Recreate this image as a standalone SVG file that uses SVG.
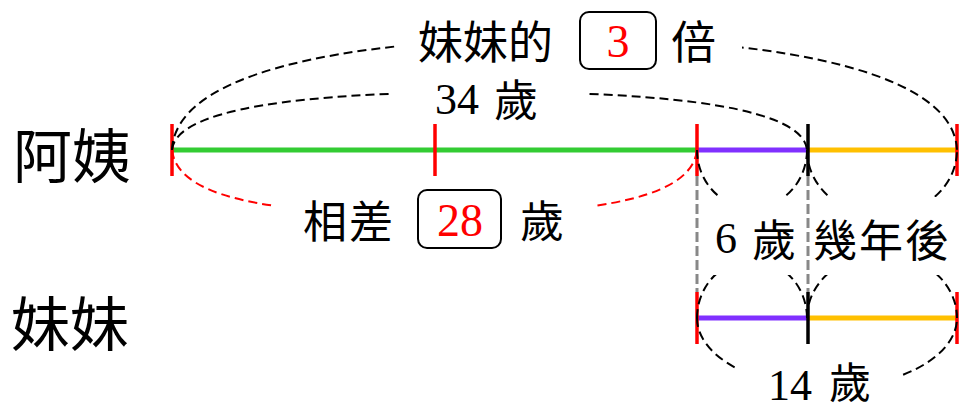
<svg xmlns="http://www.w3.org/2000/svg" width="959" height="411" viewBox="0 0 959 411">
<style>
.t{font-family:"Liberation Serif","Noto Sans CJK TC",serif;fill:#000}
.big{font-size:59px}
.m{font-size:44px}
.red{fill:#ff0000}
.bar{stroke-width:5;fill:none}
.tick{stroke-width:3.5;fill:none}
.arc{stroke:#000;stroke-width:2;fill:none;stroke-dasharray:9 5}
.arcr{stroke:#ff0000;stroke-width:2;fill:none;stroke-dasharray:9 5}
.guide{stroke:#888;stroke-width:3;stroke-dasharray:10 4;fill:none}
.box{fill:none;stroke:#000;stroke-width:2}
</style>
<defs>
<mask id="gaps" maskUnits="userSpaceOnUse" x="0" y="0" width="959" height="411">
<rect x="0" y="0" width="959" height="411" fill="#fff"/>
<rect x="396" y="0" width="346" height="78" fill="#000"/>
<rect x="392" y="80" width="195" height="30" fill="#000"/>
<rect x="272" y="180" width="325" height="60" fill="#000"/>
<rect x="700" y="197" width="259" height="78" fill="#000"/>
<rect x="737" y="340" width="165" height="71" fill="#000"/>
</mask>
</defs>
<rect width="959" height="411" fill="#fff"/>

<g id="aunt-bar">
<line class="bar" x1="172" y1="150" x2="697" y2="150" stroke="#33cc33"/>
<line class="bar" x1="697" y1="150" x2="807" y2="150" stroke="#8030ff"/>
<line class="bar" x1="807" y1="150" x2="957" y2="150" stroke="#ffc000"/>
<line class="tick" x1="172" y1="124" x2="172" y2="176" stroke="#ff0000"/>
<line class="tick" x1="435" y1="124" x2="435" y2="176" stroke="#ff0000"/>
<line class="tick" x1="697" y1="124" x2="697" y2="176" stroke="#ff0000"/>
<line class="tick" x1="808" y1="124" x2="808" y2="176" stroke="#000"/>
<line class="tick" x1="957" y1="124" x2="957" y2="176" stroke="#ff0000"/>
</g>

<g id="sister-bar">
<line class="bar" x1="697" y1="318" x2="807" y2="318" stroke="#8030ff"/>
<line class="bar" x1="807" y1="318" x2="957" y2="318" stroke="#ffc000"/>
<line class="tick" x1="697" y1="292" x2="697" y2="344" stroke="#ff0000"/>
<line class="tick" x1="808" y1="292" x2="808" y2="344" stroke="#000"/>
<line class="tick" x1="957" y1="292" x2="957" y2="344" stroke="#ff0000"/>
</g>

<g id="connectors">
<line class="guide" x1="697" y1="176" x2="697" y2="292"/>
<line class="guide" x1="808" y1="176" x2="808" y2="292"/>
<g mask="url(#gaps)">
<path class="arc" d="M172,150 C176,60 400,38 564.5,38 C729,38 953,60 957,150"/>
<path class="arc" d="M172,150 C176,100 360,92 489.5,92 C619,92 803,100 807,150"/>
<path class="arcr" d="M172,150 C178,205 300,214 434.5,214 C569,214 691,205 697,150"/>
<path class="arc" d="M697,150 A55,58 0 0 0 807,150"/>
<path class="arc" d="M697,318 A55,58 0 0 1 807,318"/>
<path class="arc" d="M807,150 A75,66 0 0 0 957,150"/>
<path class="arc" d="M807,318 A75,64 0 0 1 957,318"/>
<path class="arc" d="M697,318 A130,70 0 0 0 957,318"/>
</g>
</g>

<g id="label-aunt"><text class="t big" x="13" y="178">阿姨</text></g>
<g id="label-sister"><text class="t big" x="11" y="346">妹妹</text></g>

<g id="label-times">
<text class="t m" x="418" y="59" style="font-size:45px">妹妹的</text>
<rect class="box" x="580" y="12" width="76" height="57" rx="9"/>
<text class="t m red" x="618" y="57" text-anchor="middle" style="font-size:46px">3</text>
<text class="t m" x="671" y="59" style="font-size:45px">倍</text>
</g>

<g id="label-34">
<text class="t m" x="435" y="114">34</text>
<text class="t m" x="494" y="117">歲</text>
</g>

<g id="label-diff">
<text class="t m" x="303" y="238" letter-spacing="2">相差</text>
<rect class="box" x="418" y="190" width="83" height="58" rx="9"/>
<text class="t m red" x="460" y="236" text-anchor="middle" style="font-size:46px">28</text>
<text class="t m" x="520" y="238">歲</text>
</g>

<g id="label-6">
<text class="t m" x="715" y="253">6</text>
<text class="t m" x="752" y="257">歲</text>
</g>

<g id="label-years">
<text class="t m" x="813" y="257" letter-spacing="2">幾年後</text>
</g>

<g id="label-14">
<text class="t m" x="768" y="400">14</text>
<text class="t m" x="829" y="398" style="font-size:42px">歲</text>
</g>
</svg>
